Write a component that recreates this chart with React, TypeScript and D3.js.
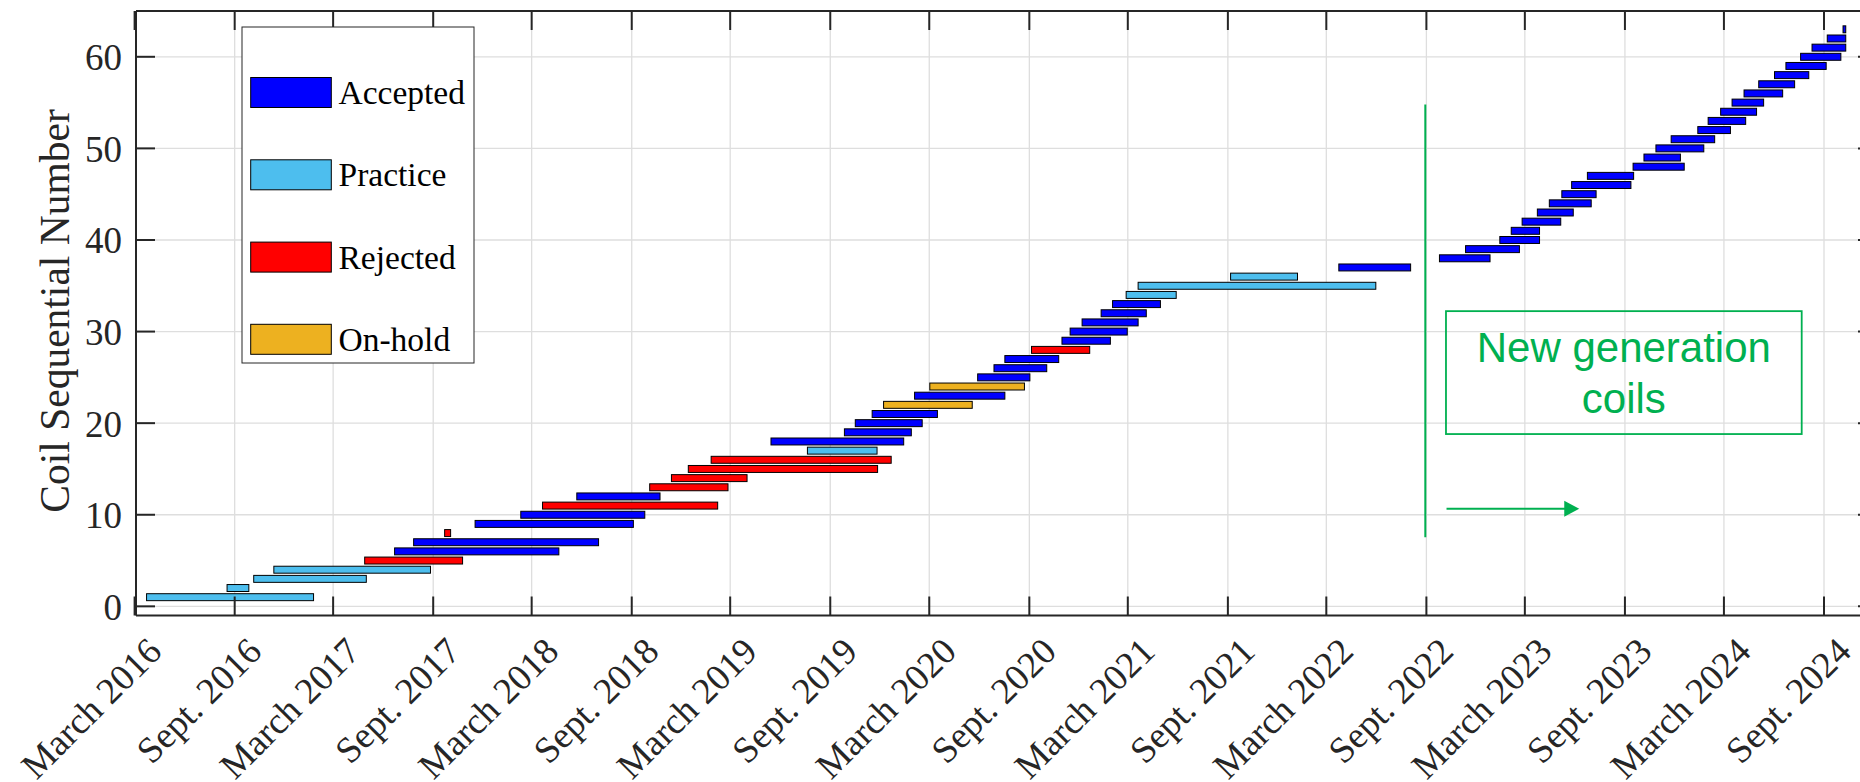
import React from "react";
import * as d3 from "d3";

// ---------------- data ----------------
const statusNames = ["Accepted", "Practice", "Rejected", "On-hold"];
const statusColors = ["#0000FF", "#4DBEEE", "#FF0000", "#EDB120"];

const coilNumbers = [
  1, 2, 3, 4, 5, 6, 7, 8, 9, 10, 11, 12, 13, 14, 15, 16, 17, 18, 19, 20, 21,
  22, 23, 24, 25, 26, 27, 28, 29, 30, 31, 32, 33, 34, 35, 36, 37, 38, 39, 40,
  41, 42, 43, 44, 45, 46, 47, 48, 49, 50, 51, 52, 53, 54, 55, 56, 57, 58, 59,
  60, 61, 62, 63,
];

const coilStatus = [
  "Practice", "Practice", "Practice", "Practice", "Rejected", "Accepted", "Accepted",
  "Rejected", "Accepted", "Accepted", "Rejected", "Accepted", "Rejected", "Rejected",
  "Rejected", "Rejected", "Practice", "Accepted", "Accepted", "Accepted", "Accepted",
  "On-hold", "Accepted", "On-hold", "Accepted", "Accepted", "Accepted", "Rejected",
  "Accepted", "Accepted", "Accepted", "Accepted", "Accepted", "Practice", "Practice",
  "Practice", "Accepted", "Accepted", "Accepted", "Accepted", "Accepted", "Accepted",
  "Accepted", "Accepted", "Accepted", "Accepted", "Accepted", "Accepted", "Accepted",
  "Accepted", "Accepted", "Accepted", "Accepted", "Accepted", "Accepted", "Accepted",
  "Accepted", "Accepted", "Accepted", "Accepted", "Accepted", "Accepted", "Accepted",
];

const coilStart = [
  "2016-03-23", "2016-08-18", "2016-10-06", "2016-11-12", "2017-04-28", "2017-06-22",
  "2017-07-27", "2017-09-22", "2017-11-17", "2018-02-09", "2018-03-21", "2018-05-23",
  "2018-10-04", "2018-11-13", "2018-12-14", "2019-01-25", "2019-07-21", "2019-05-15",
  "2019-09-27", "2019-10-17", "2019-11-17", "2019-12-08", "2020-02-03", "2020-03-02",
  "2020-05-29", "2020-06-28", "2020-07-18", "2020-09-05", "2020-10-31", "2020-11-15",
  "2020-12-07", "2021-01-11", "2021-02-01", "2021-02-26", "2021-03-20", "2021-09-06",
  "2022-03-24", "2022-09-25", "2022-11-12", "2023-01-14", "2023-02-04", "2023-02-24",
  "2023-03-24", "2023-04-15", "2023-05-08", "2023-05-26", "2023-06-24", "2023-09-16",
  "2023-10-06", "2023-10-28", "2023-11-25", "2024-01-13", "2024-02-01", "2024-02-24",
  "2024-03-16", "2024-04-07", "2024-05-04", "2024-06-02", "2024-06-23", "2024-07-20",
  "2024-08-10", "2024-09-07", "2024-10-06",
];

const coilEnd = [
  "2017-01-24", "2016-09-27", "2017-05-01", "2017-08-27", "2017-10-25", "2018-04-20",
  "2018-07-02", "2017-10-03", "2018-09-04", "2018-09-25", "2019-02-06", "2018-10-23",
  "2019-02-25", "2019-04-01", "2019-11-27", "2019-12-22", "2019-11-26", "2020-01-14",
  "2020-01-28", "2020-02-17", "2020-03-16", "2020-05-19", "2020-07-18", "2020-08-23",
  "2020-09-02", "2020-10-03", "2020-10-25", "2020-12-21", "2021-01-28", "2021-02-28",
  "2021-03-20", "2021-04-04", "2021-04-30", "2021-05-29", "2022-05-31", "2022-01-07",
  "2022-08-03", "2022-12-27", "2023-02-19", "2023-03-28", "2023-03-28", "2023-05-06",
  "2023-05-29", "2023-07-01", "2023-07-10", "2023-09-12", "2023-09-17", "2023-12-19",
  "2023-12-12", "2024-01-24", "2024-02-13", "2024-03-13", "2024-04-10", "2024-04-30",
  "2024-05-13", "2024-06-17", "2024-07-09", "2024-08-04", "2024-09-05", "2024-10-02",
  "2024-10-11", "2024-10-11", "2024-10-11",
];

const xTickDates = [
  "2016-03-01", "2016-09-01", "2017-03-01", "2017-09-01", "2018-03-01", "2018-09-01",
  "2019-03-01", "2019-09-01", "2020-03-01", "2020-09-01", "2021-03-01", "2021-09-01",
  "2022-03-01", "2022-09-01", "2023-03-01", "2023-09-01", "2024-03-01", "2024-09-01",
];
const xTickLabels = [
  "March 2016", "Sept. 2016", "March 2017", "Sept. 2017", "March 2018", "Sept. 2018",
  "March 2019", "Sept. 2019", "March 2020", "Sept. 2020", "March 2021", "Sept. 2021",
  "March 2022", "Sept. 2022", "March 2023", "Sept. 2023", "March 2024", "Sept. 2024",
];
const yTickValues = [0, 10, 20, 30, 40, 50, 60];

const yAxisTitle = "Coil Sequential Number";
const noteLines = ["New generation", "coils"];
const dividerDate = "2022-08-30";
const dividerRange = [7.55, 54.8];
const noteBoxDates = ["2022-10-07", "2024-07-22"];
const noteBoxRange = [18.81, 32.23];
const arrowDates = ["2022-10-08", "2023-06-09"];
const arrowValue = 10.66;

// ---------------- layout ----------------
const W = 1860;
const H = 782;
const plotLeft = 136;
const plotRight = 1877;
const plotTop = 11;
const plotBottom = 615.5;
const axisColor = "#262626";
const gridColor = "#dedede";
const green = "#00B050";
const serif = "'Liberation Serif', 'Times New Roman', Times, serif";
const sans = "'Liberation Sans', Arial, Helvetica, sans-serif";

const parse = d3.timeParse("%Y-%m-%d");

export default function App() {
  const x = d3
    .scaleTime()
    .domain([parse("2016-03-01")!, parse("2024-09-01")!])
    .range([134.6, 1824]);
  const y = d3.scaleLinear().domain([-1, 65]).range([plotBottom, plotTop]);
  const color = d3.scaleOrdinal<string, string>().domain(statusNames).range(statusColors);
  const barH = y(0) - y(0.76);

  const tickXs = xTickDates.map((d) => x(parse(d)!));

  const bars = coilNumbers.map((n, i) => {
    const x0 = x(parse(coilStart[i])!);
    const x1 = x(parse(coilEnd[i])!);
    return { n, x0, x1, status: coilStatus[i] };
  });

  const tickLen = 19;

  // legend
  const legend = { x: 242, y: 27, w: 232, h: 336 };
  const legendRowY = [92.5, 174.8, 257.1, 339.3];

  const boxX0 = x(parse(noteBoxDates[0])!);
  const boxX1 = x(parse(noteBoxDates[1])!);
  const boxY0 = y(noteBoxRange[1]);
  const boxY1 = y(noteBoxRange[0]);
  const boxCx = (boxX0 + boxX1) / 2;
  const boxCy = (boxY0 + boxY1) / 2;
  const divX = x(parse(dividerDate)!);
  const arX0 = x(parse(arrowDates[0])!);
  const arX1 = x(parse(arrowDates[1])!);
  const arY = y(arrowValue);

  return (
    <svg
      width={W}
      height={H}
      viewBox={`0 0 ${W} ${H}`}
      style={{ position: "absolute", left: 0, top: 0, background: "#fff" }}
    >
      <defs>
        <clipPath id="plotClip">
          <rect x={plotLeft} y={plotTop} width={plotRight - plotLeft} height={plotBottom - plotTop} />
        </clipPath>
      </defs>
      <rect x={0} y={0} width={W} height={H} fill="#fff" />

      {/* grid */}
      <g clipPath="url(#plotClip)">
        {tickXs.map((tx, i) => (
          <line key={"gx" + i} x1={tx} x2={tx} y1={plotTop} y2={plotBottom} stroke={gridColor} strokeWidth={1.3} />
        ))}
        {yTickValues.map((v) => (
          <line key={"gy" + v} x1={plotLeft} x2={plotRight} y1={y(v)} y2={y(v)} stroke={gridColor} strokeWidth={1.3} />
        ))}
      </g>

      {/* bars */}
      <g clipPath="url(#plotClip)">
        {bars.map((b) => (
          <rect
            key={"b" + b.n}
            x={b.x0}
            y={y(b.n) - barH / 2}
            width={Math.max(b.x1 - b.x0, 1)}
            height={barH}
            fill={color(b.status)}
            stroke="#000"
            strokeWidth={1}
          />
        ))}
      </g>

      {/* axes box */}
      <g stroke={axisColor} strokeWidth={2} fill="none">
        <line x1={plotLeft} x2={plotRight} y1={plotTop} y2={plotTop} />
        <line x1={plotLeft} x2={plotRight} y1={plotBottom} y2={plotBottom} />
        <line x1={plotLeft} x2={plotLeft} y1={plotTop} y2={plotBottom} />
        <line x1={plotRight} x2={plotRight} y1={plotTop} y2={plotBottom} />
        {tickXs.map((tx, i) => (
          <g key={"tx" + i}>
            <line x1={tx} x2={tx} y1={plotBottom} y2={plotBottom - tickLen} />
            <line x1={tx} x2={tx} y1={plotTop} y2={plotTop + tickLen} />
          </g>
        ))}
        {yTickValues.map((v) => (
          <g key={"ty" + v}>
            <line x1={plotLeft} x2={plotLeft + tickLen} y1={y(v)} y2={y(v)} />
            <line x1={plotRight} x2={plotRight - tickLen} y1={y(v)} y2={y(v)} />
          </g>
        ))}
      </g>

      {/* y tick labels */}
      <g fontFamily={serif} fontSize={37} fill={axisColor} textAnchor="end">
        {yTickValues.map((v) => (
          <text key={"yl" + v} x={122} y={y(v) + 13.5}>
            {v}
          </text>
        ))}
      </g>

      {/* x tick labels */}
      <g fontFamily={serif} fontSize={37} fill={axisColor} textAnchor="end">
        {tickXs.map((tx, i) => (
          <text key={"xl" + i} transform={`translate(${tx + 29},${plotBottom + 38}) rotate(-45)`}>
            {xTickLabels[i]}
          </text>
        ))}
      </g>

      {/* y axis title */}
      <text
        transform={`translate(68.5,311) rotate(-90)`}
        textAnchor="middle"
        fontFamily={serif}
        fontSize={41.5}
        fill={axisColor}
      >
        {yAxisTitle}
      </text>

      {/* legend */}
      <g>
        <rect x={legend.x} y={legend.y} width={legend.w} height={legend.h} fill="#fff" stroke={axisColor} strokeWidth={1} />
        {statusNames.map((name, i) => (
          <g key={"lg" + name}>
            <rect
              x={250.7}
              y={legendRowY[i] - 15}
              width={80.6}
              height={30}
              fill={color(name)}
              stroke="#000"
              strokeWidth={1}
            />
            <text x={338.5} y={legendRowY[i] + 11.5} fontFamily={serif} fontSize={33.5} fill="#000">
              {name}
            </text>
          </g>
        ))}
      </g>

      {/* annotations */}
      <g>
        <line x1={divX} x2={divX} y1={y(dividerRange[1])} y2={y(dividerRange[0])} stroke={green} strokeWidth={2} />
        <rect x={boxX0} y={boxY0} width={boxX1 - boxX0} height={boxY1 - boxY0} fill="none" stroke={green} strokeWidth={1.8} />
        <text x={boxCx} y={boxCy - 10.8} textAnchor="middle" fontFamily={sans} fontSize={42} fill={green}>
          {noteLines[0]}
        </text>
        <text x={boxCx} y={boxCy + 40.8} textAnchor="middle" fontFamily={sans} fontSize={42} fill={green}>
          {noteLines[1]}
        </text>
        <line x1={arX0} x2={arX1 - 14} y1={arY} y2={arY} stroke={green} strokeWidth={2} />
        <path d={`M${arX1},${arY} L${arX1 - 15},${arY - 8} L${arX1 - 15},${arY + 8} Z`} fill={green} />
      </g>
    </svg>
  );
}
